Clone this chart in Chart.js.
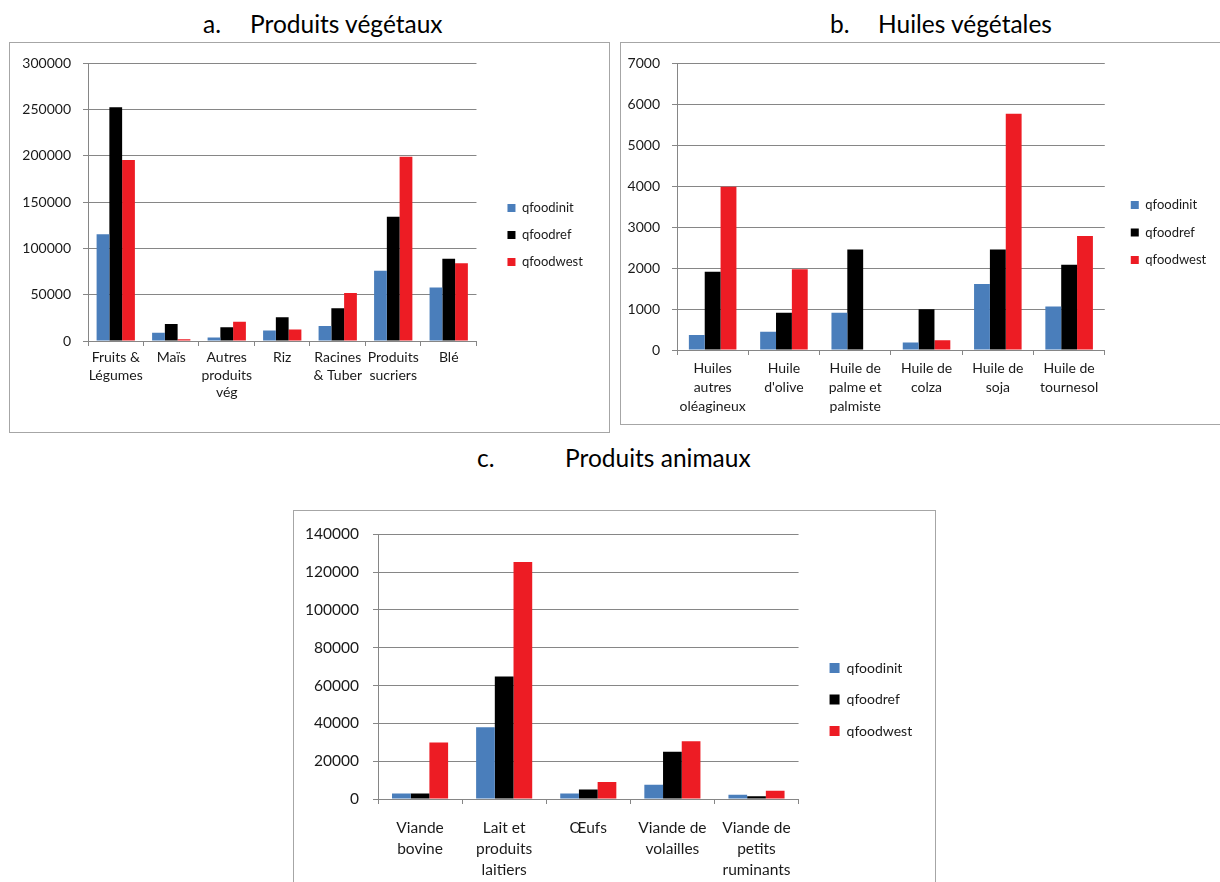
<!DOCTYPE html>
<html>
<head>
<meta charset="utf-8">
<script src="https://cdn.jsdelivr.net/npm/chart.js@4.4.1/dist/chart.umd.min.js"></script>
<style>
  body { margin: 0; background: #fff; width: 1220px; height: 882px; overflow: hidden; position: relative; font-family: Lato, sans-serif; }
  .box { position: absolute; border: 1px solid #a6a6a6; box-sizing: border-box; overflow: hidden; }
  .box canvas { position: absolute; left: 0; top: 0; }
  .ttl { position: absolute; font-size: 24.5px; line-height: 24px; color: #000; white-space: nowrap; }
</style>
</head>
<body>
<span class="ttl" style="left:203px;top:12px">a.</span>
<span class="ttl" style="left:250px;top:12px">Produits végétaux</span>
<span class="ttl" style="left:830px;top:12px">b.</span>
<span class="ttl" style="left:878px;top:12px">Huiles végétales</span>
<span class="ttl" style="left:477px;top:446px">c.</span>
<span class="ttl" style="left:565px;top:446px">Produits animaux</span>

<div class="box" style="left:9px;top:42px;width:601px;height:391px"><canvas id="chartA" width="599" height="389"></canvas></div>
<div class="box" style="left:620px;top:42px;width:605px;height:383px"><canvas id="chartB" width="603" height="381"></canvas></div>
<div class="box" style="left:293px;top:510px;width:643px;height:400px"><canvas id="chartC" width="641" height="398"></canvas></div>

<script>
const seriesNames = ['qfoodinit', 'qfoodref', 'qfoodwest'];
const seriesColors = ['#4A7EBB', '#000000', '#ED1C24'];

// a. Produits végétaux
const vegLabels = [['Fruits &', 'Légumes'], 'Maïs', ['Autres', 'produits', 'vég'], 'Riz', ['Racines', '& Tuber'], ['Produits', 'sucriers'], 'Blé'];
const vegInit = [115400, 8800, 3900, 11300, 16200, 75900, 57900];
const vegRef = [252700, 18300, 14800, 25800, 35300, 134400, 88900];
const vegWest = [195500, 1800, 20800, 12300, 51900, 199000, 84000];

// b. Huiles végétales
const oilLabels = [['Huiles', 'autres', 'oléagineux'], ['Huile', "d'olive"], ['Huile de', 'palme et', 'palmiste'], ['Huile de', 'colza'], ['Huile de', 'soja'], ['Huile de', 'tournesol']];
const oilInit = [365, 445, 910, 185, 1610, 1065];
const oilRef = [1910, 910, 2455, 995, 2455, 2085];
const oilWest = [3985, 1975, 0, 240, 5770, 2785];

// c. Produits animaux
const animLabels = [['Viande', 'bovine'], ['Lait et', 'produits', 'laitiers'], 'Œufs', ['Viande de', 'volailles'], ['Viande de', 'petits', 'ruminants']];
const animInit = [2900, 38000, 2900, 7600, 2200];
const animRef = [2900, 64800, 5000, 25000, 1500];
const animWest = [29900, 125400, 9000, 30600, 4300];

const gridColor = '#868686';
const textColor = '#1a1a1a';

function makeChart(id, labels, values, o) {
  const canvas = document.getElementById(id);
  const chart = new Chart(canvas, {
    type: 'bar',
    data: {
      labels: labels,
      datasets: values.map((v, i) => ({
        label: seriesNames[i],
        data: v,
        backgroundColor: seriesColors[i],
        borderWidth: 0,
        categoryPercentage: o.cat,
        barPercentage: 1
      }))
    },
    options: {
      responsive: false,
      animation: false,
      layout: { padding: { left: 0, top: o.padTop, bottom: canvas.height - o.axisY - o.xH, right: 10 } },
      plugins: {
        tooltip: { enabled: false },
        legend: {
          position: 'right',
          align: 'start',
          // empty title only pushes the items down to where they sit in the original
          title: { display: true, text: '', font: { size: 10, lineHeight: '0px' }, padding: { top: o.legTop, bottom: 0 } },
          labels: {
            boxWidth: o.box,
            boxHeight: o.box,
            padding: o.legPad,
            color: textColor,
            font: { family: 'Lato', size: o.legFs }
          }
        }
      },
      scales: {
        x: {
          grid: { drawOnChartArea: false, drawTicks: true, tickLength: 5, color: gridColor },
          border: { color: gridColor },
          ticks: {
            autoSkip: false, maxRotation: 0, padding: o.xPad, color: textColor,
            font: { family: 'Lato', size: o.fs, lineHeight: o.lh + 'px' }
          },
          afterFit: s => { s.height = o.xH; }
        },
        y: {
          min: 0, max: o.max,
          grid: { color: gridColor, tickLength: 5 },
          border: { color: gridColor },
          ticks: {
            stepSize: o.step, padding: o.yPad, color: textColor,
            font: { family: 'Lato', size: o.fs },
            callback: v => String(v)
          },
          afterFit: s => { s.width = o.yW; }
        },
        spacer: {
          type: 'linear', position: 'right', display: true,
          grid: { display: false, drawTicks: false },
          border: { display: false },
          ticks: { display: false },
          afterFit: s => { s.width = o.spacer; }
        }
      }
    }
  });
  // second pass: pin the plot's right end and the legend's left edge
  const lw = chart.legend.width;
  chart.options.layout.padding.right = canvas.width - lw - o.legLeft;
  o.spacer = o.legLeft - o.plotRight;
  chart.update();
  return chart;
}

makeChart('chartA', vegLabels, [vegInit, vegRef, vegWest], {
  fs: 14, lh: 17.5, xPad: 3, yPad: 12, cat: 0.69,
  legFs: 13, box: 8, legPad: 14, legTop: 130.9, legLeft: 482,
  max: 300000, step: 50000, yW: 78, padTop: 13.6, axisY: 298, xH: 73,
  plotRight: 465, spacer: 18
});

makeChart('chartB', oilLabels, [oilInit, oilRef, oilWest], {
  fs: 14, lh: 19, xPad: 4, yPad: 12, cat: 0.667,
  legFs: 13, box: 8, legPad: 14.5, legTop: 124.5, legLeft: 495.5,
  max: 7000, step: 1000, yW: 56, padTop: 16.5, axisY: 307, xH: 72,
  plotRight: 484, spacer: 13
});

makeChart('chartC', animLabels, [animInit, animRef, animWest], {
  fs: 15.5, lh: 21, xPad: 13, yPad: 14, cat: 0.667,
  legFs: 14, box: 10, legPad: 17.5, legTop: 111.5, legLeft: 516.5,
  max: 140000, step: 20000, yW: 84, padTop: 21, axisY: 288, xH: 85,
  plotRight: 503, spacer: 15
});
</script>
</body>
</html>
